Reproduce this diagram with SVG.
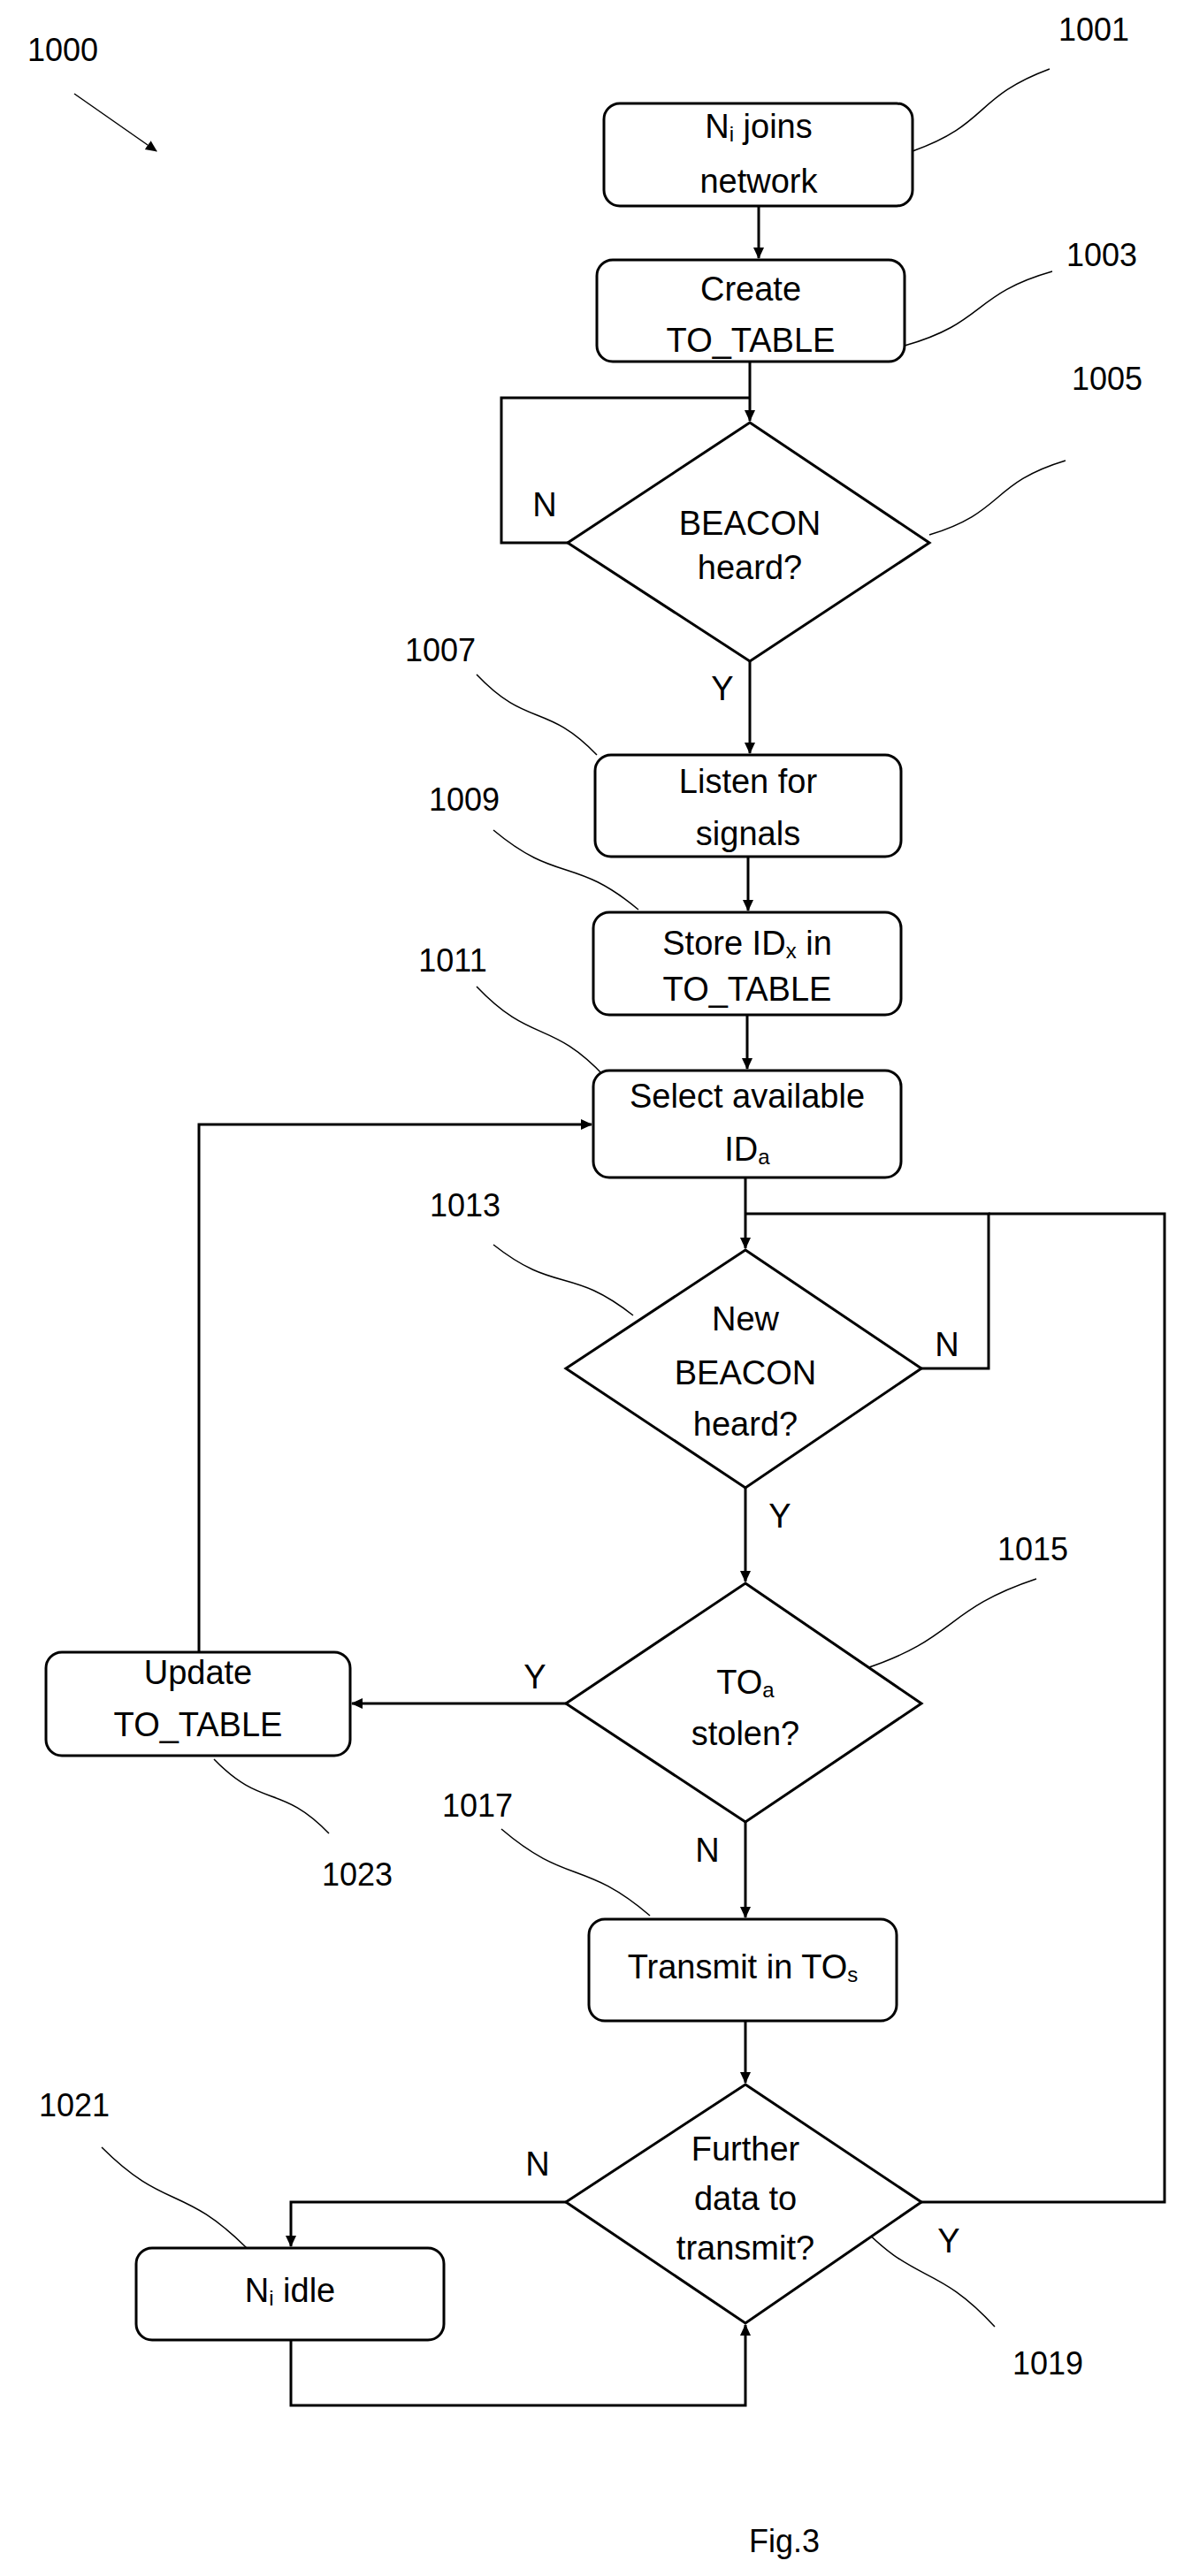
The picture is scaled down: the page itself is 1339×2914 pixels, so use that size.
<svg xmlns="http://www.w3.org/2000/svg" width="1339" height="2914" viewBox="0 0 1339 2914">
<style>
.b{fill:#fff;stroke:#000;stroke-width:3}
.t{font-family:"Liberation Sans",Arial,sans-serif;font-size:38px;text-anchor:middle;dominant-baseline:central;fill:#000}
.l{font-family:"Liberation Sans",Arial,sans-serif;font-size:36px;text-anchor:middle;dominant-baseline:central;fill:#000}
.c{fill:none;stroke:#000;stroke-width:3}
.w{fill:none;stroke:#000;stroke-width:1.5}
</style>
<defs><marker id="a" markerWidth="14" markerHeight="14" refX="12" refY="7" orient="auto" markerUnits="userSpaceOnUse"><path d="M0,1 L13,7 L0,13 Z" fill="#000"/></marker></defs>
<rect width="1339" height="2914" fill="#fff"/>
<g id="connectors">
<path class="c" d="M858 233 V292" marker-end="url(#a)"/>
<path class="c" d="M848 409 V476" marker-end="url(#a)"/>
<path class="c" d="M642 614 H567 V450 H848"/>
<path class="c" d="M848 748 V852" marker-end="url(#a)"/>
<path class="c" d="M846 969 V1030" marker-end="url(#a)"/>
<path class="c" d="M845 1148 V1209" marker-end="url(#a)"/>
<path class="c" d="M843 1332 V1412" marker-end="url(#a)"/>
<path class="c" d="M1042 1548 H1118 V1373 H843"/>
<path class="c" d="M843 1683 V1789" marker-end="url(#a)"/>
<path class="c" d="M640 1927 H398" marker-end="url(#a)"/>
<path class="c" d="M225 1869 V1272 H669" marker-end="url(#a)"/>
<path class="c" d="M843 2061 V2169" marker-end="url(#a)"/>
<path class="c" d="M843 2286 V2356" marker-end="url(#a)"/>
<path class="c" d="M1042 2491 H1317 V1373 H1118"/>
<path class="c" d="M640 2491 H329 V2541" marker-end="url(#a)"/>
<path class="c" d="M329 2647 V2721 H843 V2630" marker-end="url(#a)"/>
<path class="w" d="M84 106 L177 171" marker-end="url(#a)"/>
<path class="w" d="M1032 171 C1119 140 1101 110 1187 78"/>
<path class="w" d="M1023 391 C1115 365 1099 333 1190 307"/>
<path class="w" d="M1051 605 C1137 579 1119 547 1205 521"/>
<path class="w" d="M539 763 C597 824 617 794 675 854"/>
<path class="w" d="M558 939 C631 1000 649 968 722 1029"/>
<path class="w" d="M539 1116 C602 1182 622 1152 684 1218"/>
<path class="w" d="M558 1408 C629 1464 645 1432 716 1488"/>
<path class="w" d="M1172 1786 C1067 1821 1083 1853 977 1888"/>
<path class="w" d="M567 2069 C642 2133 660 2103 735 2167"/>
<path class="w" d="M242 1990 C297 2047 317 2017 372 2074"/>
<path class="w" d="M115 2429 C187 2501 207 2471 279 2543"/>
<path class="w" d="M967 2511 C1035 2586 1057 2558 1125 2632"/>
</g>
<g id="n1001"><rect class="b" x="683" y="117" width="349" height="116" rx="18"/><text class="t" x="858" y="143">N<tspan font-size="24" baseline-shift="-8">i</tspan> joins</text><text class="t" x="858" y="205">network</text></g>
<g id="n1003"><rect class="b" x="675" y="294" width="348" height="115" rx="18"/><text class="t" x="849" y="327">Create</text><text class="t" x="849" y="385">TO_TABLE</text></g>
<g id="n1005"><polygon class="b" points="848,478 1051,614 848,748 642,614"/><text class="t" x="848" y="592">BEACON</text><text class="t" x="848" y="642">heard?</text></g>
<g id="n1007"><rect class="b" x="673" y="854" width="346" height="115" rx="18"/><text class="t" x="846" y="884">Listen for</text><text class="t" x="846" y="943">signals</text></g>
<g id="n1009"><rect class="b" x="671" y="1032" width="348" height="116" rx="18"/><text class="t" x="845" y="1067">Store ID<tspan font-size="24" baseline-shift="-8">x</tspan> in</text><text class="t" x="845" y="1119">TO_TABLE</text></g>
<g id="n1011"><rect class="b" x="671" y="1211" width="348" height="121" rx="18"/><text class="t" x="845" y="1240">Select available</text><text class="t" x="845" y="1300">ID<tspan font-size="24" baseline-shift="-8">a</tspan></text></g>
<g id="n1013"><polygon class="b" points="843,1414 1042,1548 843,1683 640,1548"/><text class="t" x="843" y="1492">New</text><text class="t" x="843" y="1553">BEACON</text><text class="t" x="843" y="1611">heard?</text></g>
<g id="n1015"><polygon class="b" points="843,1791 1042,1927 843,2061 640,1927"/><text class="t" x="843" y="1903">TO<tspan font-size="24" baseline-shift="-8">a</tspan></text><text class="t" x="843" y="1961">stolen?</text></g>
<g id="n1023"><rect class="b" x="52" y="1869" width="344" height="117" rx="18"/><text class="t" x="224" y="1892">Update</text><text class="t" x="224" y="1951">TO_TABLE</text></g>
<g id="n1017"><rect class="b" x="666" y="2171" width="348" height="115" rx="18"/><text class="t" x="840" y="2225">Transmit in TO<tspan font-size="24" baseline-shift="-8">s</tspan></text></g>
<g id="n1019"><polygon class="b" points="843,2358 1042,2491 843,2628 640,2491"/><text class="t" x="843" y="2431">Further</text><text class="t" x="843" y="2487">data to</text><text class="t" x="843" y="2543">transmit?</text></g>
<g id="n1021"><rect class="b" x="154" y="2543" width="348" height="104" rx="18"/><text class="t" x="328" y="2591">N<tspan font-size="24" baseline-shift="-8">i</tspan> idle</text></g>
<g id="labels">
<text class="t" x="616" y="571">N</text><text class="t" x="817" y="779">Y</text>
<text class="t" x="1071" y="1521">N</text><text class="t" x="882" y="1715">Y</text>
<text class="t" x="605" y="1897">Y</text><text class="t" x="800" y="2093">N</text>
<text class="t" x="608" y="2448">N</text><text class="t" x="1073" y="2535">Y</text>
<text class="l" x="71" y="56">1000</text><text class="l" x="1237" y="33">1001</text>
<text class="l" x="1246" y="288">1003</text><text class="l" x="1252" y="428">1005</text>
<text class="l" x="498" y="735">1007</text><text class="l" x="525" y="904">1009</text>
<text class="l" x="512" y="1086">1011</text><text class="l" x="526" y="1363">1013</text>
<text class="l" x="1168" y="1752">1015</text><text class="l" x="540" y="2042">1017</text>
<text class="l" x="404" y="2120">1023</text><text class="l" x="84" y="2381">1021</text>
<text class="l" x="1185" y="2673">1019</text><text class="l" x="887" y="2874">Fig.3</text>
</g>
</svg>
